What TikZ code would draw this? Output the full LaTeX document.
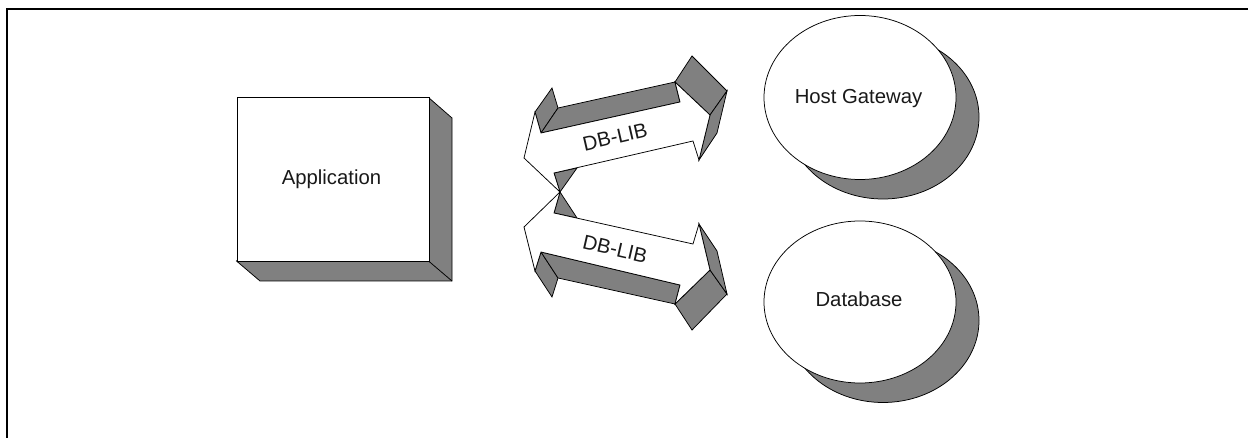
\documentclass[tikz,border=0pt]{standalone}
\usepackage{fontspec}
\setmainfont{Liberation Sans}
\tikzset{
  x=1pt,y=-1pt,
  face/.style={draw=black,line width=0.75pt,fill=white,line join=miter},
  shade3d/.style={draw=black,line width=0.75pt,fill=black!50,line join=miter},
  lbl/.style={font=\fontsize{20.3pt}{24pt}\selectfont,inner sep=0pt,text=black!90}
}
\begin{document}
\begin{tikzpicture}
\useasboundingbox (0,0) rectangle (1248,438);
\fill[white] (0,0) rectangle (1248,438);
\draw[line width=2.3pt] (7.1,438) -- (7.1,9.2) -- (1248,9.2);
% Application
\draw[shade3d] (428.5,97.5) -- (452,118) -- (452,281) -- (260,281) -- (236.5,261) -- cycle;
\draw[draw=black,line width=0.75pt] (428.5,261) -- (452,281);
\node[face,minimum width=192pt,minimum height=164pt,inner sep=0pt,anchor=north west] (app) at (236.5,97.5) {};
\node[lbl,anchor=base] at (331.5,184.5) {Application};
% upper arrow
\draw[shade3d] (535,112) -- (552,88) -- (558,108) -- (541,133) -- cycle;
\draw[shade3d] (541,133) -- (558,108) -- (675,82) -- (680,102) -- cycle;
\draw[shade3d] (675,82) -- (692,56) -- (727,91) -- (710,115) -- cycle;
\draw[shade3d] (710,115) -- (727,91) -- (717,133) -- (699,160) -- cycle;
\draw[shade3d] (554,173) -- (577,168) -- (560,192) -- cycle;
\draw[face] (560,192) -- (524,158) -- (535,112) -- (541,133) -- (680,102) -- (675,82) -- (710,115) -- (699,160) -- (693,141) -- (554,173) -- cycle;
\node[lbl,rotate=13] at (615,137) {DB-LIB};
% lower arrow
\draw[shade3d] (535,271) -- (552,297) -- (558,278) -- (541,252) -- cycle;
\draw[shade3d] (541,252) -- (558,278) -- (675,304) -- (680,285) -- cycle;
\draw[shade3d] (675,304) -- (692,330) -- (727,294) -- (710,270) -- cycle;
\draw[shade3d] (710,270) -- (727,294) -- (717,251) -- (699,224) -- cycle;
\draw[shade3d] (554,213) -- (577,218) -- (560,192) -- cycle;
\draw[face] (560,192) -- (524,227) -- (535,271) -- (541,252) -- (680,285) -- (675,304) -- (710,270) -- (699,224) -- (693,244) -- (554,213) -- cycle;
\node[lbl,rotate=-13] at (615,249) {DB-LIB};
% ellipses
\draw[shade3d] (883,117) ellipse [x radius=96,y radius=82];
\draw[face] (860,97.5) ellipse [x radius=96,y radius=82];
\node[lbl,anchor=base] at (858.5,103.5) {Host Gateway};
\draw[shade3d] (883,320.5) ellipse [x radius=96,y radius=82];
\draw[face] (860,302) ellipse [x radius=96,y radius=81];
\node[lbl,anchor=base] at (859,307) {Database};
\end{tikzpicture}
\end{document}
